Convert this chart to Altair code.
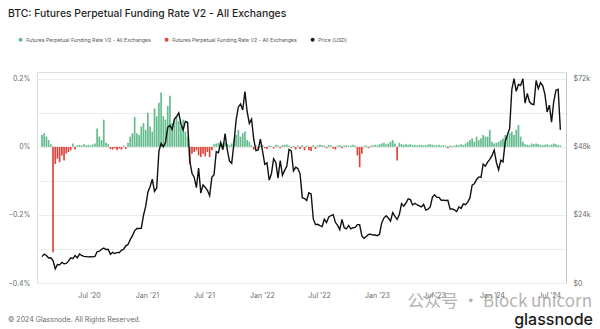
import altair as alt
import pandas as pd

# ---------------- data (weekly, starting Mon 2020-02-03) ----------------
funding_2020 = [0.035, 0.04, 0.03, 0.02, 0.008, -0.31, -0.05, -0.035, -0.045, -0.025,
                -0.04, -0.02, -0.015, -0.01, 0.01, -0.008, 0.005, 0.006, 0.004, 0.008,
                0.005, 0.006, 0.004, 0.007, 0.01, 0.054, 0.03, 0.02, 0.08, 0.012,
                0.008, -0.006, -0.008, -0.004, -0.01, -0.005, -0.008, 0.004, -0.006, 0.012,
                0.03, 0.04, 0.088, 0.04, 0.035, 0.06, 0.07, 0.05]
funding_2021 = [0.1, 0.06, 0.045, 0.113, 0.09, 0.13, 0.16, 0.09, 0.08, 0.12,
                0.15, 0.07, 0.08, 0.09, 0.075, 0.06, 0.08, 0.045, 0.03, -0.05,
                -0.02, -0.015, -0.01, -0.025, -0.03, -0.02, -0.028, -0.015, -0.03, -0.01,
                0.008, 0.01, 0.012, 0.015, 0.01, 0.012, 0.008, 0.005, 0.01, 0.02,
                0.035, 0.05, 0.03, 0.04, 0.045, 0.02, 0.015, 0.005, -0.008, 0.004,
                -0.005, 0.003]
funding_2022 = [0.005, -0.004, -0.006, 0.004, 0.003, -0.005, 0.006, 0.004, -0.004, 0.005,
                0.006, 0.007, 0.004, -0.003, 0.003, -0.008, 0.004, -0.006, 0.005, -0.01,
                0.004, -0.01, -0.012, 0.005, -0.006, 0.004, 0.006, 0.005, 0.004, -0.004,
                0.006, 0.005, -0.005, -0.008, 0.004, 0.005, -0.004, 0.004, 0.005, 0.003,
                0.004, 0.006, 0.004, -0.025, -0.06, -0.02, 0.003, 0.004, -0.004, 0.004,
                0.005, 0.006]
funding_2023 = [0.004, 0.008, 0.01, 0.012, 0.008, 0.01, 0.015, 0.02, 0.01, -0.04,
                0.012, 0.008, 0.006, 0.008, 0.006, 0.008, 0.005, 0.006, 0.004, 0.005,
                0.006, 0.004, 0.005, 0.006, 0.008, 0.006, 0.005, 0.004, 0.006, 0.004,
                0.005, 0.003, -0.004, 0.004, 0.003, 0.004, 0.006, 0.005, 0.008, 0.006,
                0.01, 0.015, 0.02, 0.025, 0.015, 0.03, 0.02, 0.025, 0.035, 0.03,
                0.03, 0.05]
funding_2024 = [0.015, 0.01, 0.012, 0.015, 0.02, 0.025, 0.035, 0.03, 0.04, 0.045,
                0.035, 0.05, 0.064, 0.03, 0.015, 0.008, 0.006, 0.005, 0.01, 0.008,
                0.01, 0.008, 0.006, 0.005, 0.006, 0.008, 0.005, 0.007, 0.01, 0.008,
                0.005, 0.004]

price_2020 = [9.3, 10.2, 9.7, 8.8, 8.9, 7.9, 5.0, 6.5, 6.4, 7.3, 6.8, 6.9, 7.7, 8.9, 8.6, 9.7,
              8.9, 10.2, 9.7, 9.4, 9.3, 9.2, 9.3, 9.2, 9.4, 11.0, 11.2, 11.9, 12.3, 11.8, 11.9,
              10.1, 10.8, 10.4, 10.8, 10.7, 11.5, 11.9, 13.1, 13.6, 15.3, 16.7, 18.4, 19.2,
              19.2, 19.3, 23.8, 27.0]
price_2021 = [32.0, 34.0, 36.6, 32.3, 33.5, 46.5, 49.2, 48.0, 49.6, 54.9, 55.6, 54.1, 57.7,
              58.7, 60.0, 56.0, 54.0, 57.0, 56.7, 43.0, 38.7, 37.3, 33.6, 40.5, 31.7, 34.6,
              33.7, 32.7, 30.8, 37.3, 38.2, 46.3, 45.9, 49.5, 47.0, 52.7, 46.9, 43.0, 42.2,
              49.1, 57.5, 62.0, 63.1, 61.0, 67.5, 60.4, 56.3, 57.8, 50.6, 46.7, 46.9, 50.7]
price_2022 = [46.4, 41.8, 42.3, 36.3, 38.5, 43.8, 42.5, 37.0, 43.2, 38.0, 39.7, 41.2, 47.1,
              46.6, 39.5, 40.8, 40.4, 38.5, 30.1, 29.8, 29.1, 31.8, 31.4, 22.5, 20.6, 20.7,
              20.2, 19.9, 22.5, 21.3, 23.3, 23.8, 24.1, 21.4, 20.3, 18.8, 22.4, 19.5, 19.1,
              20.3, 19.1, 19.5, 19.6, 20.6, 20.6, 16.6, 15.8, 16.4, 17.1, 17.2, 16.9, 16.9]
price_2023 = [16.7, 17.2, 21.2, 22.9, 23.7, 22.9, 21.8, 24.8, 23.5, 22.4, 24.1, 28.0, 27.1,
              28.2, 29.7, 29.4, 27.5, 28.1, 27.6, 27.2, 26.8, 27.7, 25.7, 26.0, 26.8, 30.3,
              31.1, 30.2, 30.2, 29.2, 29.2, 29.1, 29.2, 26.1, 26.1, 25.8, 25.2, 26.8, 26.3,
              27.9, 27.6, 28.5, 30.0, 34.5, 35.0, 36.5, 37.4, 37.2, 41.9, 41.2, 42.6, 43.6]
price_2024 = [44.9, 46.9, 42.5, 39.9, 43.3, 42.7, 49.9, 52.2, 54.5, 68.3, 72.1, 67.6, 70.0,
              69.7, 72.0, 63.4, 66.8, 63.9, 63.1, 62.9, 71.4, 68.5, 70.6, 69.6, 66.5, 60.3,
              62.7, 56.7, 64.0, 68.0, 68.3, 54.0]

funding = funding_2020 + funding_2021 + funding_2022 + funding_2023 + funding_2024
price_k = price_2020 + price_2021 + price_2022 + price_2023 + price_2024

LBL = "Futures Perpetual Funding Rate V2 - All Exchanges"
series_names = [LBL, LBL + " ", "Price (USD)"]
series_colors = ["#5cb887", "#dc3c32", "#111111"]

x_ticks = [(2020, 7), (2021, 1), (2021, 7), (2022, 1), (2022, 7),
           (2023, 1), (2023, 7), (2024, 1), (2024, 7)]

# ---------------- frames ----------------
fdf = pd.DataFrame({
    "date": pd.date_range("2020-02-03", periods=len(funding), freq="7D"),
    "rate": funding,
})
fdf["series"] = [LBL if v >= 0 else LBL + " " for v in funding]
pdf = pd.DataFrame({
    "date": pd.date_range("2020-02-03", periods=len(price_k), freq="7D"),
    "price": [p * 1000 for p in price_k],
})

FONT = "Inter"
GRAY = "#6b6b6b"

x_enc = alt.X(
    "date:T",
    scale=alt.Scale(domain=[alt.DateTime(year=2020, month=2, date=3),
                            alt.DateTime(year=2024, month=8, date=7)]),
    axis=alt.Axis(
        values=[alt.DateTime(year=y, month=m, date=1) for y, m in x_ticks],
        format="%b '%y", labelFontSize=7, labelColor=GRAY, labelFont=FONT,
        grid=False, domain=False, ticks=False, labelPadding=8, title=None,
    ),
)

bars = alt.Chart(fdf).mark_bar(size=1.7, opacity=0.95).encode(
    x=x_enc,
    y=alt.Y(
        "rate:Q",
        scale=alt.Scale(domain=[-0.4, 0.22], nice=False, zero=False),
        axis=alt.Axis(
            orient="left",
            values=[-0.4, -0.3, -0.2, -0.1, 0, 0.1, 0.2],
            labelExpr="abs(round(datum.value*10)) % 2 == 0 ? (datum.value == 0 ? '0%' : format(datum.value, '.1f') + '%') : ''",
            grid=True, gridColor="#ececec", gridWidth=1,
            domain=False, ticks=False, labelFontSize=7, labelColor=GRAY,
            labelFont=FONT, labelPadding=7, title=None,
        ),
    ),
    color=alt.Color(
        "series:N",
        scale=alt.Scale(domain=series_names, range=series_colors),
        legend=alt.Legend(
            orient="none", legendX=-19, legendY=-35, direction="horizontal",
            title=None, symbolType="circle", symbolSize=16, symbolStrokeWidth=0,
            labelFontSize=5.2, labelColor="#555555", labelFont=FONT,
            columnPadding=13, symbolOffset=0, labelOffset=3,
        ),
    ),
)

line = alt.Chart(pdf).mark_line(color="#111111", strokeWidth=1.4).encode(
    x=x_enc,
    y=alt.Y(
        "price:Q",
        scale=alt.Scale(domain=[0, 74400], nice=False),
        axis=alt.Axis(
            orient="right",
            values=[0, 24000, 48000, 72000],
            labelExpr="datum.value == 0 ? '$0' : '$' + (datum.value/1000) + 'k'",
            grid=False, domain=True, domainColor="#c8c8c8", ticks=False,
            labelFontSize=7, labelColor=GRAY, labelFont=FONT, labelPadding=7,
            title=None,
        ),
    ),
)


def label(text, x, y, **kw):
    return alt.Chart(pd.DataFrame({"t": [text]})).mark_text(**kw).encode(
        text="t:N", x=alt.value(x), y=alt.value(y)
    )


title_t = label("BTC: Futures Perpetual Funding Rate V2 - All Exchanges", -29, -55,
                align="left", baseline="alphabetic", fontSize=10.4, fontWeight=500,
                color="#1f1f1f", font=FONT)
foot_t = label("© 2024 Glassnode. All Rights Reserved.", -29, 250,
               align="left", baseline="alphabetic", fontSize=7, color=GRAY, font=FONT)
logo_t = label("glassnode", 556, 253, align="right", baseline="alphabetic",
               fontSize=16, fontWeight=500, color="#1a1a1a", font=FONT)
wm_t = label("公众号 · Block unicorn", 555, 230, align="right", baseline="middle",
             fontSize=17, color="#9a9a9a", opacity=0.75, font="Noto Sans CJK SC")

chart = alt.layer(bars, line, title_t, foot_t, wm_t, logo_t).resolve_scale(
    y="independent"
).properties(
    width=529, height=211,
    padding={"left": 37, "top": 72, "right": 34, "bottom": 46},
    autosize=alt.AutoSizeParams(type="none"),
    background="white",
).configure_view(stroke=None).configure(font=FONT)

chart.save("out.html", embed_options={"renderer": "svg", "actions": False})
